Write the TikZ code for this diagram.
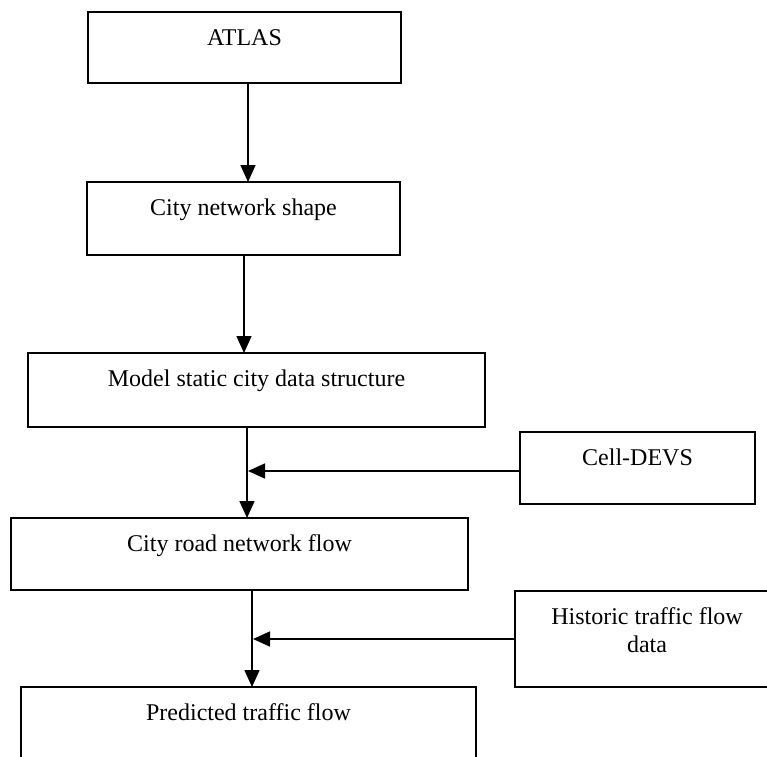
\documentclass[tikz,border=0pt]{standalone}
\usepackage{fontspec}
\setmainfont{Liberation Serif}
\usetikzlibrary{arrows.meta}
\begin{document}
\begin{tikzpicture}[x=1pt,y=-1pt,
  box/.style={draw, line width=1.7pt, inner sep=0pt, outer sep=0pt, anchor=north,
    font=\fontsize{24}{28}\selectfont, text height=33pt},
  arr/.style={line width=1.6pt, -{Triangle[length=17pt,width=15pt]}}]
\useasboundingbox (0,0) rectangle (767,756);
\clip (0,0) rectangle (767,756);
\node[box, minimum width=313pt, text depth=38pt] (atlas) at (244.5,12) {ATLAS};
\node[box, minimum width=313pt, text depth=40pt] (city) at (243.5,182) {City network shape};
\node[box, minimum width=457pt, text depth=41pt] (model) at (256.5,353) {Model static city data structure};
\node[box, minimum width=235pt, text depth=39pt] (cell) at (637.5,432) {Cell-DEVS};
\node[box, minimum width=457pt, text depth=39pt] (road) at (239.5,518) {City road network flow};
\node[box, minimum width=264pt, text height=61pt, text depth=35pt, align=center] (hist) at (647,591) {Historic traffic flow\\data};
\node[box, minimum width=455pt, text depth=57pt] (pred) at (248.5,687) {Predicted traffic flow};
\coordinate (c1) at (248,0);
\coordinate (c2) at (244,0);
\coordinate (c3) at (247,0);
\coordinate (c4) at (252,0);
\coordinate (j1) at (248,471);
\coordinate (j2) at (253,639);
\draw[arr] (c1 |- atlas.south) -- (c1 |- city.north);
\draw[arr] (c2 |- city.south) -- (c2 |- model.north);
\draw[arr] (c3 |- model.south) -- (c3 |- road.north);
\draw[arr] (cell.west |- j1) -- (j1);
\draw[arr] (c4 |- road.south) -- (c4 |- pred.north);
\draw[arr] (hist.west |- j2) -- (j2);
\end{tikzpicture}
\end{document}
